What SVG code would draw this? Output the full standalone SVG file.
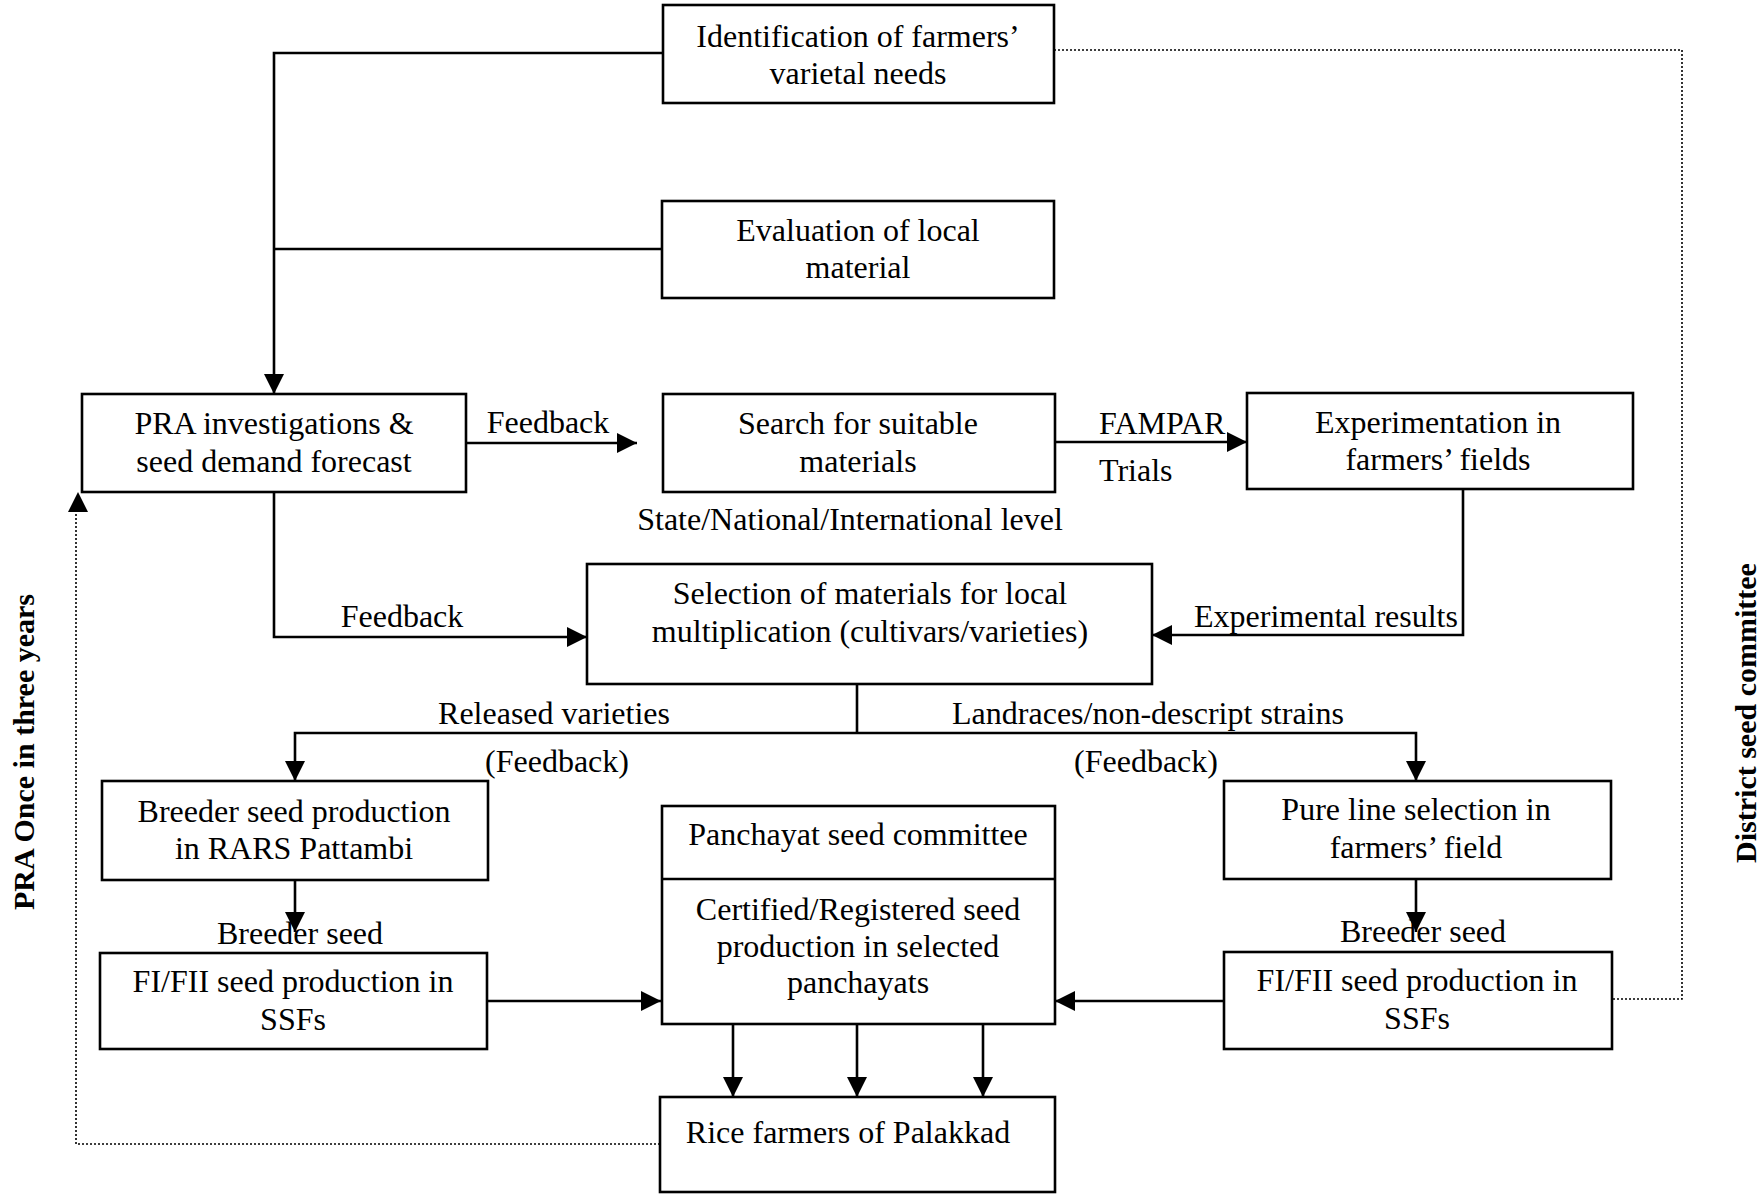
<svg xmlns="http://www.w3.org/2000/svg" width="1762" height="1194" viewBox="0 0 1762 1194">
  <style>
    .box { fill: #ffffff; stroke: #000000; stroke-width: 2.6; }
    .t { font-family: "Liberation Serif", "Times New Roman", serif; font-size: 32px; fill: #000000; text-anchor: middle; }
    .ts { text-anchor: start; }
    .side { font-weight: bold; font-size: 30px; }
    .line { fill: none; stroke: #000000; stroke-width: 2.6; }
    .dot { fill: none; stroke: #000000; stroke-width: 1.6; stroke-dasharray: 2 2; }
    .arr { marker-end: url(#head); }
  </style>
  <defs>
    <marker id="head" markerUnits="userSpaceOnUse" markerWidth="20" markerHeight="20" refX="20" refY="10" orient="auto">
      <path d="M0,0 L20,10 L0,20 Z" fill="#000000"/>
    </marker>
  </defs>
  <rect width="1762" height="1194" fill="#ffffff"/>

  <!-- connectors -->
  <g id="connectors">
    <path class="line" d="M662,249 H274"/>
    <path class="line arr" d="M662,53 H274 V394"/>
    <path class="line arr" d="M466,443 H637"/>
    <path class="line arr" d="M1055,442 H1247"/>
    <path class="line arr" d="M274,492 V637 H587"/>
    <path class="line arr" d="M1463,489 V635 H1152"/>
    <path class="line" d="M857,684 V733"/>
    <path class="line arr" d="M857,733 H295 V781"/>
    <path class="line arr" d="M857,733 H1416 V781"/>
    <path class="line arr" d="M295,880 V932"/>
    <path class="line arr" d="M1416,879 V932"/>
    <path class="line arr" d="M487,1001 H661"/>
    <path class="line arr" d="M1224,1001 H1055"/>
    <path class="line arr" d="M733,1024 V1097"/>
    <path class="line arr" d="M857,1024 V1097"/>
    <path class="line arr" d="M983,1024 V1097"/>
    <path class="dot" d="M660,1144 H76 V512"/>
    <path d="M68,512 L78,492 L88,512 Z" fill="#000000"/>
    <path class="dot" d="M1054,50 H1682 V999 H1612"/>

    <text class="t" x="548" y="433">Feedback</text>
    <text class="t ts" x="1099" y="434">FAMPAR</text>
    <text class="t ts" x="1099" y="481">Trials</text>
    <text class="t" x="850" y="530">State/National/International level</text>
    <text class="t" x="402" y="627">Feedback</text>
    <text class="t" x="1326" y="627">Experimental results</text>
    <text class="t" x="554" y="724">Released varieties</text>
    <text class="t" x="557" y="772">(Feedback)</text>
    <text class="t" x="1148" y="724">Landraces/non-descript strains</text>
    <text class="t" x="1146" y="772">(Feedback)</text>
    <text class="t" x="300" y="944">Breeder seed</text>
    <text class="t" x="1423" y="942">Breeder seed</text>
    <text class="t side" transform="translate(34,752) rotate(-90)">PRA Once in three years</text>
    <text class="t side" transform="translate(1756,713) rotate(-90)">District seed committee</text>
  </g>

  <g id="identification">
    <rect class="box" x="663" y="5" width="391" height="98"/>
    <text class="t" x="858" y="47">Identification of farmers’</text>
    <text class="t" x="858" y="84">varietal needs</text>
  </g>

  <g id="evaluation">
    <rect class="box" x="662" y="201" width="392" height="97"/>
    <text class="t" x="858" y="241">Evaluation of local</text>
    <text class="t" x="858" y="278">material</text>
  </g>

  <g id="pra">
    <rect class="box" x="82" y="394" width="384" height="98"/>
    <text class="t" x="274" y="434">PRA investigations &amp;</text>
    <text class="t" x="274" y="472">seed demand forecast</text>
  </g>

  <g id="search">
    <rect class="box" x="663" y="394" width="392" height="98"/>
    <text class="t" x="858" y="434">Search for suitable</text>
    <text class="t" x="858" y="472">materials</text>
  </g>

  <g id="experimentation">
    <rect class="box" x="1247" y="393" width="386" height="96"/>
    <text class="t" x="1438" y="433">Experimentation in</text>
    <text class="t" x="1438" y="470">farmers’ fields</text>
  </g>

  <g id="selection">
    <rect class="box" x="587" y="564" width="565" height="120"/>
    <text class="t" x="870" y="604">Selection of materials for local</text>
    <text class="t" x="870" y="642">multiplication (cultivars/varieties)</text>
  </g>

  <g id="breeder-rars">
    <rect class="box" x="102" y="781" width="386" height="99"/>
    <text class="t" x="294" y="822">Breeder seed production</text>
    <text class="t" x="294" y="859">in RARS Pattambi</text>
  </g>

  <g id="panchayat">
    <rect class="box" x="662" y="806" width="393" height="218"/>
    <line class="line" x1="662" y1="879" x2="1055" y2="879"/>
    <text class="t" x="858" y="845">Panchayat seed committee</text>
    <text class="t" x="858" y="920">Certified/Registered seed</text>
    <text class="t" x="858" y="957">production in selected</text>
    <text class="t" x="858" y="993">panchayats</text>
  </g>

  <g id="pure-line">
    <rect class="box" x="1224" y="781" width="387" height="98"/>
    <text class="t" x="1416" y="820">Pure line selection in</text>
    <text class="t" x="1416" y="858">farmers’ field</text>
  </g>

  <g id="fi-fii-left">
    <rect class="box" x="100" y="953" width="387" height="96"/>
    <text class="t" x="293" y="992">FI/FII seed production in</text>
    <text class="t" x="293" y="1030">SSFs</text>
  </g>

  <g id="fi-fii-right">
    <rect class="box" x="1224" y="952" width="388" height="97"/>
    <text class="t" x="1417" y="991">FI/FII seed production in</text>
    <text class="t" x="1417" y="1029">SSFs</text>
  </g>

  <g id="rice-farmers">
    <rect class="box" x="660" y="1097" width="395" height="95"/>
    <text class="t" x="848" y="1143">Rice farmers of Palakkad</text>
  </g>
</svg>
